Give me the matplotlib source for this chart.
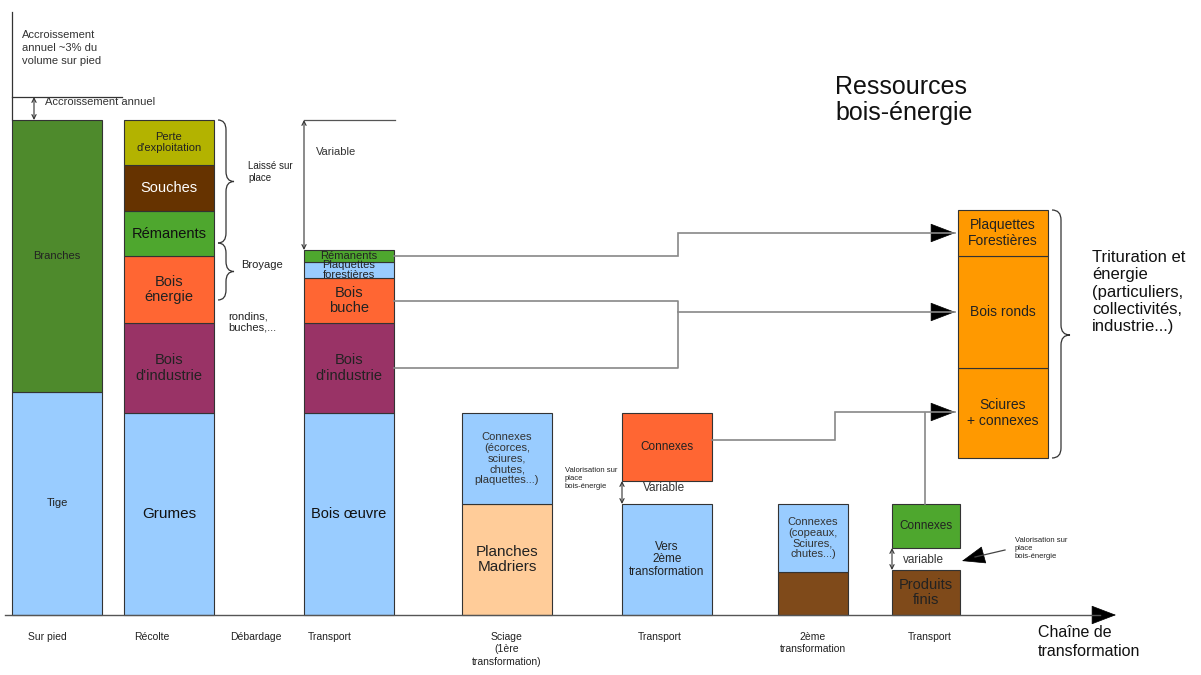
import numpy as np
import matplotlib.pyplot as plt
from matplotlib.path import Path
from matplotlib.patches import PathPatch, FancyArrowPatch

plt.rcParams['font.family'] = ['Liberation Sans', 'DejaVu Sans']

# stacked columns, bottom -> top (None label = empty gap)
sur_pied_lab = ['Tige', 'Branches']
sur_pied_val = [223, 272]
recolte_lab = ['Grumes', "Bois\nd'industrie", 'Bois\nénergie', 'Rémanents', 'Souches', "Perte\nd'exploitation"]
recolte_val = [202, 90, 67, 45, 46, 45]
transport1_lab = ['Bois œuvre', "Bois\nd'industrie", 'Bois\nbuche', 'Plaquettes\nforestières', 'Rémanents']
transport1_val = [202, 90, 45, 16, 12]
sciage_lab = ['Planches\nMadriers', 'Connexes\n(écorces,\nsciures,\nchutes,\nplaquettes...)']
sciage_val = [111, 91]
transport2_lab = ['Vers\n2ème\ntransformation', None, 'Connexes']
transport2_val = [111, 23, 68]
transfo2_lab = ['', 'Connexes\n(copeaux,\nSciures,\nchutes...)']
transfo2_val = [43, 68]
transport3_lab = ['Produits\nfinis', None, 'Connexes']
transport3_val = [45, 22, 44]
ressources_lab = ['Sciures\n+ connexes', 'Bois ronds', 'Plaquettes\nForestières']
ressources_val = [90, 112, 46]
ressources_base = 157

steps = ['Sur pied', 'Récolte', 'Débardage', 'Transport', 'Sciage\n(1ère\ntransformation)',
         'Transport', '2ème\ntransformation', 'Transport']
steps_x = [47, 152, 256, 330, 507, 660, 813, 930]

BLUE = '#99ccff'
GREEN = '#4e8a2c'
LGREEN = '#4ea72e'
OLIVE = '#b3b300'
BROWN = '#663300'
RED = '#ff6633'
PURPLE = '#993366'
PEACH = '#ffcc99'
ORANGE = '#ff9900'
PBROWN = '#7f4a1a'

fig = plt.figure(figsize=(12.01, 6.75), dpi=100)
ax = fig.add_axes([0, 0, 1, 1])
ax.set_xlim(0, 1201)
ax.set_ylim(-60, 615)
ax.axis('off')


def stack(x, w, vals, labs, cols, fs, tcols, base=0, edge='#333333'):
    b = base
    for v, l, c, fsz, tc in zip(vals, labs, cols, fs, tcols):
        if l is not None:
            ax.bar(x, v, width=w, bottom=b, align='edge', color=c, edgecolor=edge, linewidth=0.8)
            ax.text(x + w / 2, b + v / 2, l, ha='center', va='center', fontsize=fsz, color=tc,
                    linespacing=1.1)
        b += v


stack(12, 90, sur_pied_val, sur_pied_lab, [BLUE, GREEN], [8, 8], ['#222', '#222'])
stack(124, 90, recolte_val, recolte_lab, [BLUE, PURPLE, RED, LGREEN, BROWN, OLIVE],
      [11, 10.5, 10.5, 10.5, 10.5, 8], ['#111', '#222', '#222', '#111', 'white', '#222'])
stack(304, 90, transport1_val, transport1_lab, [BLUE, PURPLE, RED, BLUE, LGREEN],
      [10.5, 10.5, 10.5, 8, 8], ['#111', '#222', '#222', '#222', '#222'])
stack(462, 90, sciage_val, sciage_lab, [PEACH, BLUE], [11, 8], ['#222', '#333'])
stack(622, 90, transport2_val, transport2_lab, [BLUE, None, RED], [8.5, 8, 8.5], ['#222', '#222', '#222'])
stack(778, 70, transfo2_val, transfo2_lab, [PBROWN, BLUE], [8, 8], ['#222', '#333'])
stack(892, 68, transport3_val, transport3_lab, [PBROWN, None, LGREEN], [10.5, 8, 8.5], ['#222', '#222', '#222'])
stack(958, 90, ressources_val, ressources_lab, [ORANGE] * 3, [10, 10, 10], ['#222'] * 3,
      base=ressources_base)

Y = lambda yp: 615 - yp  # pixel row -> data

HEAD = '-|>,head_length=1.1,head_width=0.42'


def brace(x, top, bot, w, tip=None):
    tip = (top + bot) / 2 if tip is None else tip
    r = 10
    xm = x + w / 2
    verts = [(x, top), (xm, top), (xm, top - r),
             (xm, tip + r), (xm, tip), (x + w, tip),
             (xm, tip), (xm, tip - r),
             (xm, bot + r), (xm, bot), (x, bot)]
    codes = [Path.MOVETO, Path.CURVE3, Path.CURVE3,
             Path.LINETO, Path.CURVE3, Path.CURVE3,
             Path.CURVE3, Path.CURVE3,
             Path.LINETO, Path.CURVE3, Path.CURVE3]
    ax.add_patch(PathPatch(Path(verts, codes), fill=False, color='#333', lw=0.9))


def darrow(x, y0, y1):
    ax.add_patch(FancyArrowPatch((x, Y(y0)), (x, Y(y1)), arrowstyle='<->,head_length=3,head_width=1.5',
                                 color='#333', lw=0.8, shrinkA=0, shrinkB=0))


def harrow(pts):
    xs = [p[0] for p in pts]
    ys = [Y(p[1]) for p in pts]
    ax.plot(xs, ys, color='#888', lw=1.2, solid_joinstyle='miter')
    ax.add_patch(FancyArrowPatch((xs[-1] - 20, ys[-1]), (xs[-1], ys[-1]),
                                 arrowstyle=HEAD, mutation_scale=15,
                                 color='black', lw=0.5, shrinkA=0, shrinkB=0))


# axis
ax.plot([5, 1100], [0, 0], color='#555', lw=1.0)
ax.add_patch(FancyArrowPatch((1095, 0), (1116, 0), arrowstyle=HEAD,
                             mutation_scale=15, color='black', lw=0.5, shrinkA=0, shrinkB=0))

# left growth annotation
ax.plot([12, 12], [Y(12), Y(120)], color='#333', lw=0.9)
ax.plot([12, 122], [Y(97), Y(97)], color='#333', lw=0.9)
darrow(34, 97, 120)
ax.text(45, Y(102), 'Accroissement annuel', fontsize=8, color='#333', va='center')
ax.text(22, Y(30), 'Accroissement\nannuel ~3% du\nvolume sur pied', fontsize=8, color='#333',
        va='top', linespacing=1.4)

# braces next to Récolte
brace(218, Y(120), Y(243), 16)
brace(218, Y(243), Y(300), 16)
ax.text(248, Y(172), 'Laissé sur\nplace', fontsize=7, color='#222', va='center')
ax.text(241, Y(265), 'Broyage', fontsize=8, color='#222', va='center')
ax.text(228, Y(322), 'rondins,\nbuches,...', fontsize=8, color='#222', va='center')

# transport variable
ax.plot([304, 395], [Y(120), Y(120)], color='#555', lw=0.9)
darrow(304, 120, 250)
ax.text(316, Y(152), 'Variable', fontsize=8, color='#333', va='center')

# flows to energy resources
ax.plot([394, 678, 678, 394], [Y(301), Y(301), Y(368), Y(368)], color='#888', lw=1.2)
harrow([(394, 256), (678, 256), (678, 233), (955, 233)])
harrow([(678, 312), (955, 312)])
ax.plot([925, 925], [Y(504), Y(413)], color='#888', lw=1.2)
harrow([(712, 440), (835, 440), (835, 412), (955, 412)])

# transport 2 / 3 gaps
darrow(622, 481, 504)
ax.text(643, Y(488), 'Variable', fontsize=8.5, color='#333', va='center')
ax.text(565, Y(478), 'Valorisation sur\nplace\nbois-énergie', fontsize=5.5, color='#222',
        va='center', linespacing=1.2)
darrow(892, 548, 570)
ax.text(903, Y(560), 'variable', fontsize=8.5, color='#333', va='center')
ax.plot([1005, 975], [Y(550), Y(557)], color='#444', lw=0.9)
ax.add_patch(FancyArrowPatch((980, Y(556)), (962, Y(561)), arrowstyle=HEAD, mutation_scale=14,
                             color='black', lw=0.5, shrinkA=0, shrinkB=0))
ax.text(1015, Y(548), 'Valorisation sur\nplace\nbois-énergie', fontsize=5.5, color='#222',
        va='center', linespacing=1.2)

# right brace and text
brace(1052, Y(210), Y(458), 18, tip=Y(335))
ax.text(1092, Y(292), 'Trituration et\nénergie\n(particuliers,\ncollectivités,\nindustrie...)',
        fontsize=12, color='#111', va='center', linespacing=1.2)
ax.text(835, Y(100), 'Ressources\nbois-énergie', fontsize=18, color='#111', va='center',
        linespacing=1.15)

# step labels
for sx, s in zip(steps_x, steps):
    ax.text(sx, Y(632), s, ha='center', va='top', fontsize=7.5, color='#222', linespacing=1.3)
ax.text(1038, Y(642), 'Chaîne de\ntransformation', ha='left', va='center', fontsize=11.5,
        color='#111', linespacing=1.3)

fig.savefig('out.png', dpi=100)
